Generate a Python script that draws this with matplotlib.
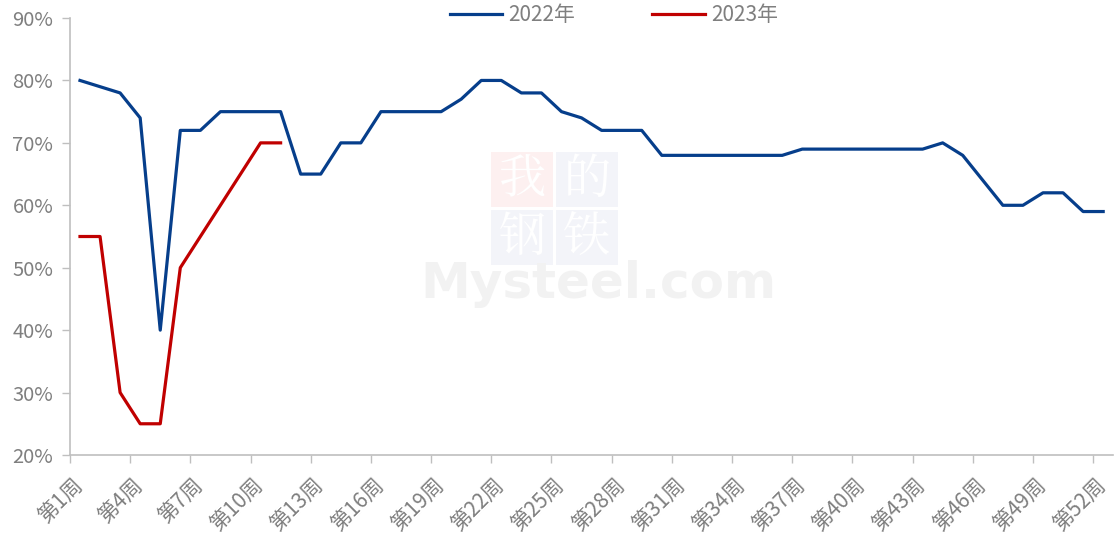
import numpy as np
import matplotlib.pyplot as plt
from matplotlib.patches import Rectangle

plt.rcParams['font.family'] = ['Noto Sans CJK SC', 'DejaVu Sans']

# -------------------------------
# Data
# -------------------------------
weeks = np.arange(1, 53)
week_labels = [f"第{w}周" for w in weeks]

rate_2022 = [80, 79, 78, 74, 40, 72, 72, 75, 75, 75,
             75, 65, 65, 70, 70, 75, 75, 75, 75, 77,
             80, 80, 78, 78, 75, 74, 72, 72, 72, 68,
             68, 68, 68, 68, 68, 68, 69, 69, 69, 69,
             69, 69, 69, 70, 68, 64, 60, 60, 62, 62,
             59, 59]
rate_2023 = [55, 55, 30, 25, 25, 50, 55, 60, 65, 70, 70]

blue = "#063E8B"
red = "#C00000"
grey = "#7F7F7F"

# -------------------------------
# Plot
# -------------------------------
fig = plt.figure(figsize=(11.14, 5.38), dpi=100)
ax = fig.add_axes([0.0628, 0.1543, 0.9365, 0.8122])

# watermark
wm = dict(transform=fig.transFigure, zorder=0)
boxes = [(491, 152, "#fdf0f0", "我"), (556, 152, "#f3f4f9", "的"),
         (491, 210, "#f3f4f9", "钢"), (556, 210, "#f3f4f9", "铁")]
for bx, by, bc, ch in boxes:
    fig.patches.append(Rectangle((bx / 1114, 1 - (by + 55) / 538), 62 / 1114, 55 / 538,
                                 facecolor=bc, edgecolor="none", **wm))
    fig.text((bx + 31) / 1114, 1 - (by + 28) / 538, ch, fontsize=34, color="#ffffff",
             ha="center", va="center", family="Noto Serif CJK SC", **wm)
fig.text(598 / 1114, 1 - 284 / 538, "Mysteel.com", fontsize=36, color="#f2f2f2",
         ha="center", va="center", family="DejaVu Sans", weight="semibold", **wm)

ax.set_facecolor("none")
ax.plot(weeks, rate_2022, color=blue, lw=2.3, label="2022年", zorder=3)
ax.plot(weeks[:len(rate_2023)], rate_2023, color=red, lw=2.3, label="2023年", zorder=3)

ax.set_xlim(0.5, 52.5)
ax.set_ylim(20, 90)
ax.set_yticks(range(20, 91, 10))
ax.set_yticklabels([f"{v}%" for v in range(20, 91, 10)], fontsize=14.5, color=grey)

ax.set_xticks(np.arange(0.5, 53, 3))
ax.set_xticklabels([])
ax.set_xticks(weeks[::3], minor=True)
ax.set_xticklabels(week_labels[::3], minor=True, rotation=45, ha="right", va="center",
                   rotation_mode="anchor", fontsize=15, color=grey)
ax.tick_params(axis="x", which="major", length=6, color="#bfbfbf", width=1)
ax.tick_params(axis="x", which="minor", length=0, pad=20)
ax.tick_params(axis="y", length=6, color="#bfbfbf", width=1, pad=6)

for s in ["top", "right"]:
    ax.spines[s].set_visible(False)
for s in ["left", "bottom"]:
    ax.spines[s].set_color("#bfbfbf")
    ax.spines[s].set_linewidth(1.2)

leg = fig.legend(loc="center", bbox_to_anchor=(614 / 1114, 1 - 15 / 538), ncol=2,
                 frameon=False, fontsize=15, handlelength=2.5, handletextpad=0.3,
                 columnspacing=3.7)
for t in leg.get_texts():
    t.set_color(grey)

fig.savefig("out.png", dpi=100)
